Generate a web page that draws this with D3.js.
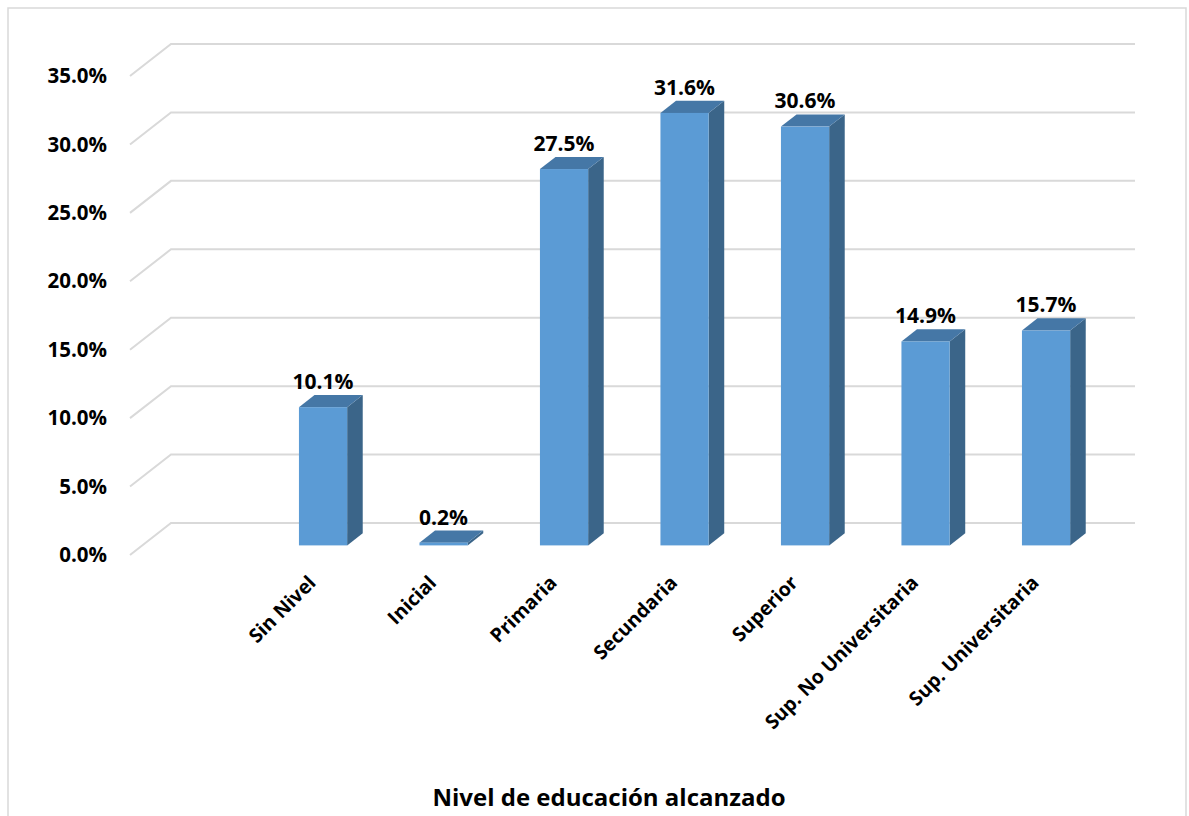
<!DOCTYPE html>
<html>
<head>
<meta charset="utf-8">
<script src="https://cdn.jsdelivr.net/npm/d3@7"></script>
<style>
  body { margin: 0; background: #fff; }
  svg { font-family: "Open Sans", sans-serif; font-weight: bold; }
</style>
</head>
<body>
<script>
const categories = ["Sin Nivel", "Inicial", "Primaria", "Secundaria", "Superior", "Sup. No Universitaria", "Sup. Universitaria"];
const values = [10.1, 0.2, 27.5, 31.6, 30.6, 14.9, 15.7];
const yTicks = [0, 5, 10, 15, 20, 25, 30, 35];

const width = 1189;
const height = 816;

// 3D look: back wall offset, and bar depth range (fraction of wall depth)
const wall = { dx: 41, dy: -32 };
const barFront = 0.3, barBack = 0.68;
const P = (x, y, d) => [x + d * wall.dx, y + d * wall.dy];

const svg = d3.create("svg").attr("width", width).attr("height", height);

svg.append("rect")
  .attr("x", 8).attr("y", 8).attr("width", 1178).attr("height", 830)
  .attr("fill", "#fff").attr("stroke", "#d9d9d9").attr("stroke-width", 1.5);

const x = d3.scaleBand(["", ...categories], [130, 1094]).paddingInner(0.6).paddingOuter(0.3);
const y = d3.scaleLinear([0, 35], [555, 76]);

// gridlines: side wall diagonal + back wall horizontal
svg.append("g")
  .selectAll("path")
  .data(yTicks)
  .join("path")
  .attr("fill", "none")
  .attr("stroke", "#d9d9d9")
  .attr("stroke-width", 2)
  .attr("d", (t) => d3.line()([P(130, y(t), 0), P(130, y(t), 1), P(1094, y(t), 1)]));

// y tick labels
svg.append("g")
  .selectAll("text")
  .data(yTicks)
  .join("text")
  .attr("x", 107)
  .attr("y", (t) => y(t))
  .attr("dy", "0.35em")
  .attr("text-anchor", "end")
  .attr("font-size", 20.5)
  .text((t) => t.toFixed(1) + "%");

const data = categories.map((c, i) => ({ c, v: values[i] }));
const bw = x.bandwidth();
const dd = barBack - barFront;

const bars = svg.append("g").selectAll("g").data(data).join("g");

bars.each(function (d) {
  const g = d3.select(this);
  const [x0, yt] = P(x(d.c), y(d.v), barFront);
  const [, yb] = P(x(d.c), y(0), barFront);
  const ox = dd * wall.dx, oy = dd * wall.dy;
  const x1 = x0 + bw;
  // side
  g.append("path")
    .attr("fill", "#3b6589")
    .attr("d", d3.line()([[x1, yt], [x1 + ox, yt + oy], [x1 + ox, yb + oy], [x1, yb]]) + "Z");
  // top
  g.append("path")
    .attr("fill", "#4577a6")
    .attr("d", d3.line()([[x0, yt], [x0 + ox, yt + oy], [x1 + ox, yt + oy], [x1, yt]]) + "Z");
  // front
  g.append("rect")
    .attr("x", x0).attr("y", yt)
    .attr("width", bw).attr("height", Math.max(0, yb - yt))
    .attr("fill", "#5b9bd5");
  // value label
  g.append("text")
    .attr("x", x0 + bw / 2)
    .attr("y", yt + oy - 6)
    .attr("text-anchor", "middle")
    .attr("font-size", 21)
    .text(d.v.toFixed(1) + "%");
});

// category labels, rotated
svg.append("g")
  .selectAll("text")
  .data(categories)
  .join("text")
  .attr("font-size", 19.5)
  .attr("text-anchor", "end")
  .attr("transform", (c) => {
    const [bx] = P(x(c), y(0), barFront);
    return `translate(${bx + bw / 2 - 6},${584}) rotate(-45)`;
  })
  .text((c) => c);

svg.append("text")
  .attr("x", 609)
  .attr("y", 806)
  .attr("text-anchor", "middle")
  .attr("font-size", 24)
  .text("Nivel de educación alcanzado");

document.body.appendChild(svg.node());
</script>
</body>
</html>
